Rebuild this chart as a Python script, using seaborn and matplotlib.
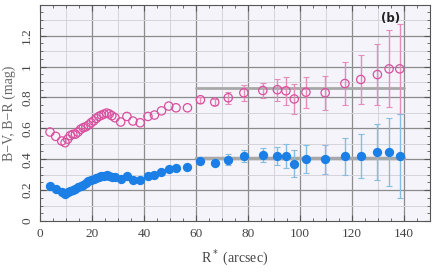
import numpy as np
import pandas as pd
import matplotlib
matplotlib.use("Agg")
import matplotlib.pyplot as plt
import seaborn as sns
from matplotlib.ticker import MultipleLocator

# radius (arcsec), shared by both colour profiles
radius = [3.8, 6.0, 8.3, 9.6, 10.6, 11.6, 12.6, 13.6, 14.6, 15.6, 16.6, 17.6,
          18.6, 19.6, 20.6, 21.6, 22.6, 23.6, 24.6, 25.6, 26.6, 27.6, 28.8,
          31.0, 33.4, 35.7, 38.5, 41.5, 44.0, 46.7, 49.5, 52.3, 56.7,
          61.7, 67.2, 72.4, 78.4, 85.7, 91.3, 94.6, 97.8, 102.3, 109.7,
          117.3, 123.4, 129.8, 134.3, 138.4]

b_r = [0.576, 0.548, 0.518, 0.507, 0.530, 0.553, 0.561, 0.562, 0.576, 0.594,
       0.604, 0.610, 0.621, 0.636, 0.648, 0.664, 0.677, 0.685, 0.692, 0.699,
       0.693, 0.682, 0.669, 0.641, 0.677, 0.647, 0.636, 0.677, 0.686, 0.713,
       0.744, 0.733, 0.733,
       0.785, 0.770, 0.798, 0.830, 0.845, 0.850, 0.843, 0.790, 0.834, 0.830,
       0.890, 0.916, 0.948, 0.985, 0.985]
b_r_err = [0] * 33 + [0.02, 0.02, 0.04, 0.05, 0.05, 0.07, 0.09, 0.097, 0.10,
                      0.11, 0.14, 0.16, 0.20, 0.25, 0.29]

b_v = [0.224, 0.210, 0.189, 0.178, 0.186, 0.196, 0.203, 0.210, 0.217, 0.228,
       0.236, 0.247, 0.258, 0.268, 0.274, 0.280, 0.286, 0.290, 0.294, 0.297,
       0.292, 0.287, 0.282, 0.270, 0.290, 0.268, 0.268, 0.290, 0.300, 0.316,
       0.338, 0.340, 0.350,
       0.387, 0.378, 0.396, 0.420, 0.426, 0.420, 0.420, 0.372, 0.400, 0.400,
       0.420, 0.420, 0.447, 0.447, 0.420]
b_v_err = [0] * 33 + [0.015, 0.015, 0.035, 0.04, 0.045, 0.06, 0.08, 0.085,
                      0.09, 0.094, 0.12, 0.143, 0.18, 0.22, 0.27]

# mean outer colours
mean_range = [60, 140]
b_r_mean = 0.86
b_v_mean = 0.405

df = pd.DataFrame({"r": radius, "br": b_r, "br_err": b_r_err,
                   "bv": b_v, "bv_err": b_v_err})

sns.set_style("ticks")
plt.rcParams["font.family"] = ["Liberation Serif", "DejaVu Serif"]

fig = plt.figure(figsize=(4.36, 2.72), dpi=100)
ax = fig.add_axes([0.092, 0.1875, 0.894, 0.795])
ax.set_facecolor("#f5f4fa")

pink = "#d9509f"
pink_bar = "#e58cbb"
blue = "#1b7fe6"
blue_bar = "#86bde0"

outer = df[df["br_err"] > 0]
ax.errorbar(outer["r"], outer["br"], yerr=outer["br_err"], fmt="none",
            ecolor=pink_bar, elinewidth=1.0, capsize=2, capthick=0.8, zorder=2)
ax.errorbar(outer["r"], outer["bv"], yerr=outer["bv_err"], fmt="none",
            ecolor=blue_bar, elinewidth=1.0, capsize=2, capthick=0.8, zorder=2)

ax.plot(mean_range, [b_r_mean] * 2, color="#a8a8a8", lw=2, zorder=1.5)
ax.plot(mean_range, [b_v_mean] * 2, color="#a8a8a8", lw=2.5, zorder=1.5)

sns.scatterplot(data=df, x="r", y="br", ax=ax, marker="o", s=36,
                facecolors="none", edgecolor=pink, linewidth=0.9, zorder=3)
sns.scatterplot(data=df, x="r", y="bv", ax=ax, marker="o", s=45,
                color=blue, edgecolor=blue, linewidth=0, zorder=3)

ax.set_xlim(0, 150)
ax.set_ylim(0, 1.4)
ax.xaxis.set_major_locator(MultipleLocator(20))
ax.xaxis.set_minor_locator(MultipleLocator(5))
ax.yaxis.set_major_locator(MultipleLocator(0.2))
ax.yaxis.set_minor_locator(MultipleLocator(0.05))
ax.set_yticks([0, 0.2, 0.4, 0.6, 0.8, 1.0, 1.2])
ax.set_yticklabels(["0", "0.2", "0.4", "0.6", "0.8", "1", "1.2"],
                   rotation=90, va="center")

# grid: dark majors, light at halves
for xv in range(10, 150, 10):
    major = xv % 20 == 0
    ax.axvline(xv, color="#8c8c8c" if major else "#d4d4dc",
               lw=0.9 if major else 0.7, zorder=0.5)
for yv in np.arange(0.1, 1.4, 0.1):
    major = round(yv * 10) % 2 == 0
    ax.axhline(yv, color="#8c8c8c" if major else "#d4d4dc",
               lw=0.9 if major else 0.7, zorder=0.5)

ax.tick_params(which="both", direction="in", top=True, right=True,
               colors="#555555", labelcolor="#444444", labelsize=9.5)
ax.tick_params(which="major", length=4, width=0.8, pad=5)
ax.tick_params(which="minor", length=2, width=0.6)
for sp in ax.spines.values():
    sp.set_color("#555555")
    sp.set_linewidth(0.8)

ax.set_xlabel("R$^*$ (arcsec)", fontsize=10, color="#444444", labelpad=5)
ax.set_ylabel("B\u2212V, B\u2212R (mag)", fontsize=10, color="#666666",
              labelpad=4)
ax.text(0.875, 0.965, "(b)", transform=ax.transAxes, fontsize=8.5,
        fontweight="bold", family="DejaVu Sans", va="top", color="#222222")

fig.savefig("out.png", dpi=100)
